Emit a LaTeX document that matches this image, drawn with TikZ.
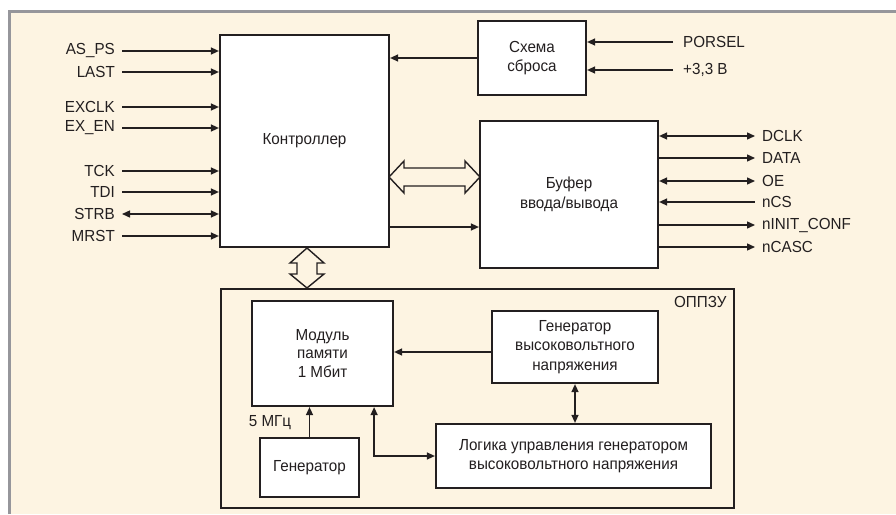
\documentclass[tikz,border=0pt]{standalone}
\usepackage{fontspec}
\setmainfont{Liberation Sans}[FakeStretch=0.95]
\usepackage{tikz}
\usetikzlibrary{arrows.meta,calc,positioning}
\definecolor{cream}{RGB}{253,244,226}
\definecolor{frame}{RGB}{150,150,155}
\definecolor{ink}{RGB}{35,31,32}

\begin{document}
\begin{tikzpicture}[x=1pt, y=-1pt, color=ink,
    font=\fontsize{16}{19.5}\selectfont,
    >={Triangle[length=8pt,width=7pt]},
    blk/.style={draw, line width=2.2pt, fill=white, align=center, inner sep=0pt},
    conn/.style={line width=1.4pt},
    pin/.style={inner xsep=7pt, inner ysep=0pt}]
  \useasboundingbox (0,0) rectangle (896,514);
  \fill[color=cream] (8,10) rectangle (896,514);
  \draw[color=frame, line width=3pt] (9.5,514) -- (9.5,11.5) -- (896,11.5);

  % main blocks
  \node[blk, minimum width=169, minimum height=212] (ctrl) at (304.5,141) {Контроллер};
  \node[blk, minimum width=108, minimum height=74] (rst) at (532,58) {Схема\\сброса};
  \node[blk, minimum width=178, minimum height=147] (buf) at (569,194.5) {Буфер\\ввода/вывода};

  % OPPZU
  \node[draw, line width=1.4pt, minimum width=513, minimum height=219] (oppzu) at (477.5,398.5) {};
  \node[anchor=north east, inner xsep=8pt, inner ysep=8pt] (oname) at (oppzu.north east) {ОППЗУ};
  \node[blk, minimum width=141, minimum height=105, font=\fontsize{16}{18.5}\selectfont] (mem) at (322.5,353.5) {Модуль\\памяти\\1 Мбит};
  \node[blk, minimum width=166, minimum height=72] (hv) at (575,347) {Генератор\\высоковольтного\\напряжения};
  \node[blk, minimum width=275, minimum height=64] (logic) at (573.5,456) {Логика управления генератором\\высоковольтного напряжения};
  \node[blk, minimum width=99, minimum height=59] (gen) at (309.5,467.5) {Генератор};

  % controller inputs
  \foreach \txt/\y/\tip [count=\i] in {AS\_PS/51/->, LAST/72/->, EXCLK/107/->, EX\_EN/128/->,
      TCK/171/->, TDI/192/->, STRB/214/<->, MRST/236/->} {
    \node[pin, anchor=east] (in\i) at (122,\y) {\txt};
    \draw[conn, \tip] (in\i.east) -- (in\i.east -| ctrl.west);
  }

  % buffer pins
  \foreach \txt/\y/\tip [count=\i] in {DCLK/136/<->, DATA/158/->, OE/181/<->, nCS/202/<-,
      nINIT\_CONF/225/->, nCASC/247/->} {
    \node[pin, anchor=west] (out\i) at (755,\y) {\txt};
    \draw[conn, \tip] (out\i.west -| buf.east) -- (out\i.west);
  }

  % reset inputs
  \node[pin, inner xsep=10pt, anchor=west] (porsel) at (673,42) {PORSEL};
  \node[pin, inner xsep=10pt, anchor=west] (vcc) at (673,70) {+3,3 В};
  \draw[conn, ->] (porsel.west) -- (porsel.west -| rst.east);
  \draw[conn, ->] (vcc.west) -- (vcc.west -| rst.east);
  \draw[conn, ->] (rst.west) -- (rst.west -| ctrl.east);

  \coordinate (dq) at ($(ctrl.east)+(0,86)$);
  \draw[conn, ->] (dq) -- (dq -| buf.west);

  % wide buses
  \draw[line width=1.4pt] (389,177) -- (404,161) -- (404,168) -- (465,168) -- (465,161)
    -- (480,177) -- (465,193) -- (465,186) -- (404,186) -- (404,193) -- cycle;
  \draw[line width=1.4pt] (307,248) -- (324,263) -- (317,263) -- (317,274) -- (324,274)
    -- (307,288) -- (290,274) -- (297,274) -- (297,263) -- (290,263) -- cycle;

  % inside OPPZU
  \draw[conn, ->] ($(hv.west)+(0,5)$) -- ($(hv.west -| mem.east)+(0,5)$);
  \draw[conn, <->] (hv.south) -- (hv.south |- logic.north);
  \draw[conn, ->] (gen.north) -- (gen.north |- mem.south);
  \node (f5) at (270,423) {5 МГц};
  \draw[conn, <->] ($(mem.south east)+(-20,0)$) |- (logic.west);
\end{tikzpicture}
\end{document}
